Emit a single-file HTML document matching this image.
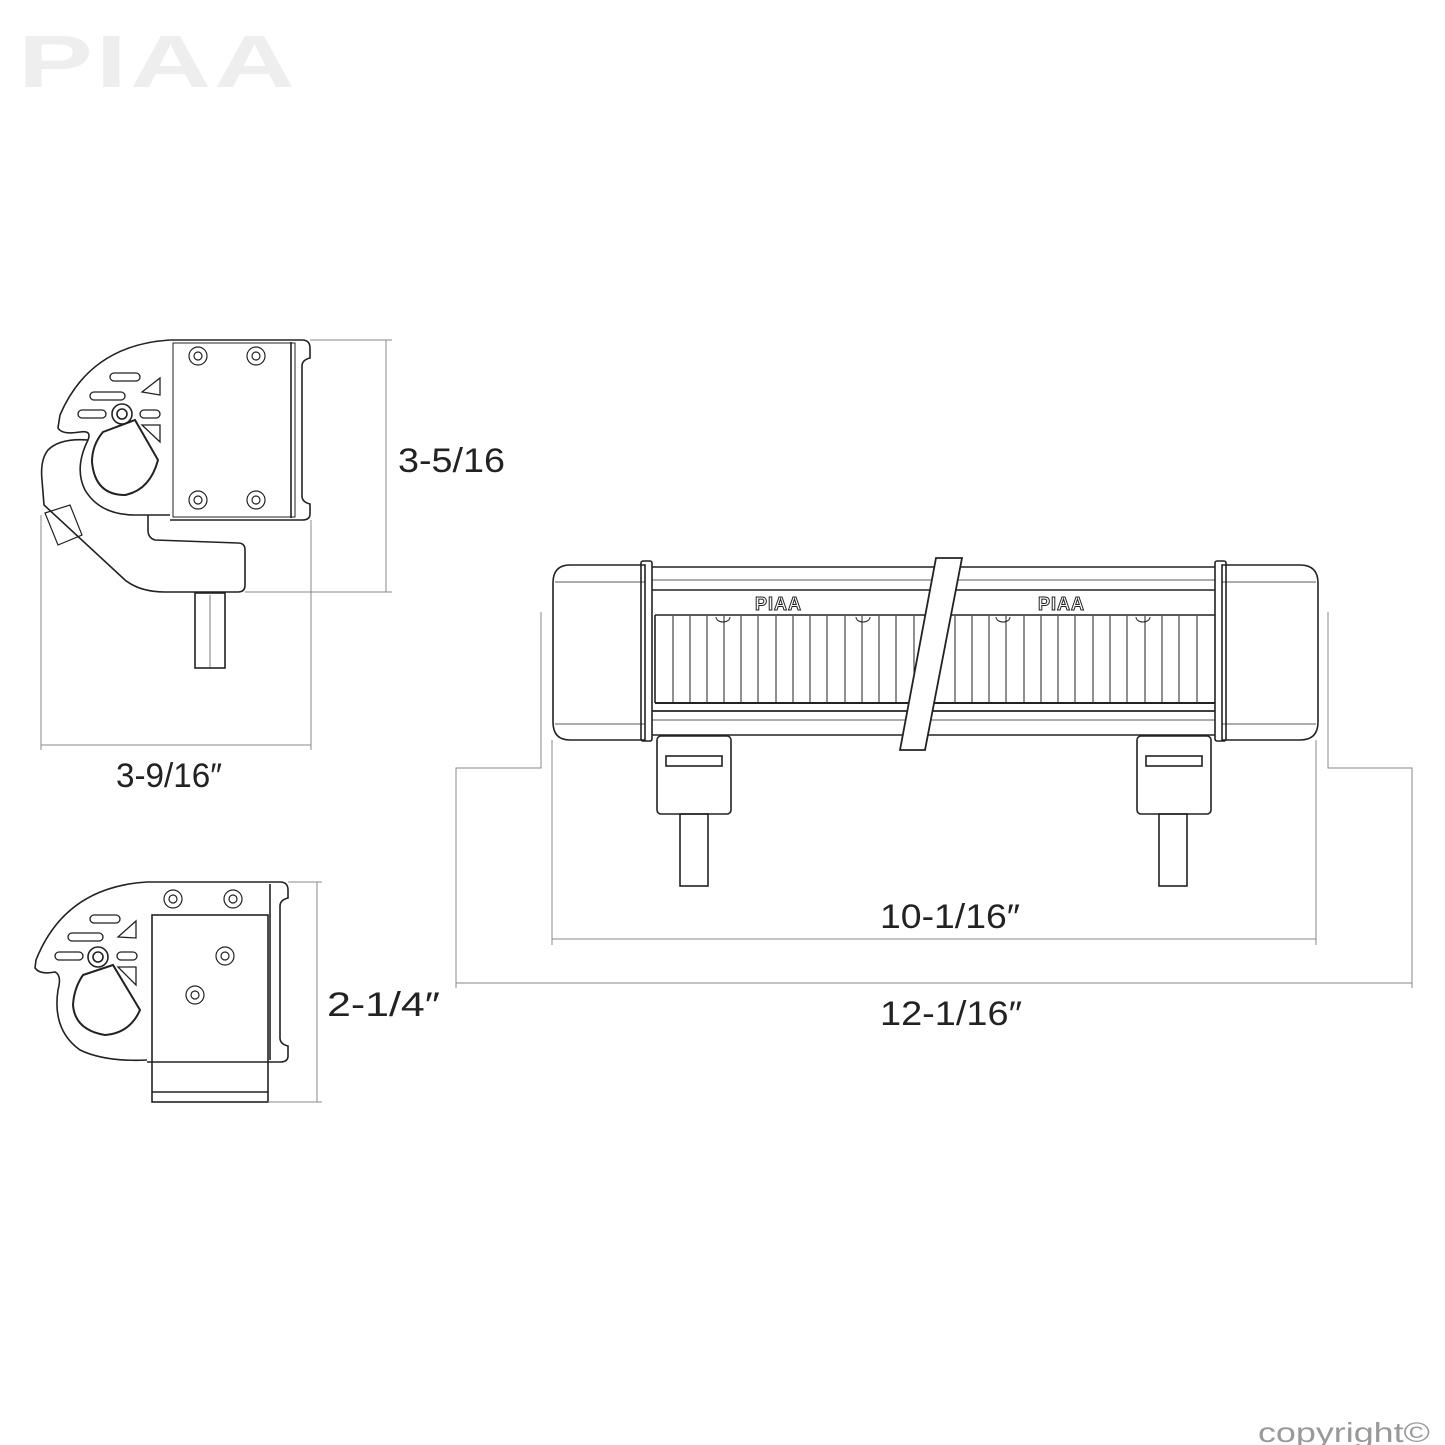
<!DOCTYPE html>
<html><head><meta charset="utf-8"><style>
html,body{margin:0;padding:0;background:#fff}
svg{display:block}
text{font-family:"Liberation Sans",sans-serif}
</style></head><body>
<svg width="1445" height="1445" viewBox="0 0 1445 1445" xmlns="http://www.w3.org/2000/svg">
<text x="18" y="87" font-size="74" font-weight="bold" fill="#eeeeee" letter-spacing="2" textLength="280" lengthAdjust="spacingAndGlyphs">PIAA</text>

<g fill="none" stroke="#222" stroke-width="1.6">
<path d="M170,340 L302,340 Q310,340 310,348 L310,358 Q302,360 302,366 L302,496 Q302,502 310,504 L310,514 Q310,520 302,520 L170,520"/>
<path d="M170,340 Q90,345 60,415 L58,428 Q62,435 80,432 Q92,430 88,440 Q74,468 85,490 Q100,515 135,515 L170,515"/>
<rect x="173" y="343" width="122" height="174" stroke-width="1"/>
<line x1="291" y1="342" x2="291" y2="518"/>
<path d="M88,440 Q60,438 48,450 Q40,460 42,480 L44,505 L125,580 Q140,592 165,592 L238,592 Q245,592 245,585 L245,550 Q245,543 238,543 L155,540 Q148,538 148,530 L148,515"/>
<path d="M45,513 L70,505 L82,535 L58,545 Z" stroke-width="1.2"/>
<rect x="195" y="593" width="30" height="75"/>
<line x1="210" y1="595" x2="210" y2="667" stroke-width=".6"/>
<path d="M103,432 L135,420 L158,460 Q150,490 125,495 Q95,495 92,462 Q92,445 103,432Z" stroke-width="2"/>
<circle cx="122" cy="414" r="10"/><circle cx="122" cy="414" r="5"/>
<g stroke-width="1.3">
<rect x="110" y="373" width="30" height="8" rx="4"/>
<rect x="90" y="392" width="35" height="8" rx="4"/>
<rect x="78" y="410" width="28" height="8" rx="4"/>
<rect x="140" y="410" width="20" height="8" rx="4"/>
<path d="M142,392 L160,378 L160,395 Z"/>
<path d="M142,425 L160,425 L160,442 Z"/>
</g>
<g stroke-width="1.2">
<circle cx="198" cy="356" r="9"/><circle cx="198" cy="356" r="4"/>
<circle cx="256" cy="356" r="9"/><circle cx="256" cy="356" r="4"/>
<circle cx="198" cy="500" r="9"/><circle cx="198" cy="500" r="4"/>
<circle cx="256" cy="500" r="9"/><circle cx="256" cy="500" r="4"/>
</g>

<path d="M147,882 L280,882 Q288,882 288,890 L288,898 Q280,900 280,906 L280,1038 Q280,1044 288,1046 L288,1056 Q288,1062 280,1062 L147,1062"/>
<path d="M147,882 Q65,887 36,960 L35,968 Q40,975 55,972 Q62,975 58,990 Q52,1030 80,1050 Q105,1062 147,1060"/>
<rect x="152" y="915" width="116" height="187"/>
<line x1="152" y1="1092" x2="268" y2="1092"/>
<line x1="270" y1="884" x2="270" y2="1060"/>
<path d="M83,975 L113,965 L140,1010 Q130,1033 105,1035 Q75,1030 73,1005 Q74,988 83,975Z" stroke-width="2"/>
<circle cx="98" cy="957" r="10"/><circle cx="98" cy="957" r="5"/>
<g stroke-width="1.3">
<rect x="90" y="915" width="30" height="8" rx="4"/>
<rect x="68" y="933" width="35" height="8" rx="4"/>
<rect x="55" y="952" width="28" height="8" rx="4"/>
<rect x="117" y="952" width="20" height="8" rx="4"/>
<path d="M118,937 L136,921 L136,938 Z"/>
<path d="M118,967 L136,967 L136,985 Z"/>
</g>
<g stroke-width="1.2">
<circle cx="173" cy="899" r="9"/><circle cx="173" cy="899" r="4"/>
<circle cx="233" cy="899" r="9"/><circle cx="233" cy="899" r="4"/>
<circle cx="225" cy="956" r="9"/><circle cx="225" cy="956" r="4"/>
<circle cx="195" cy="995" r="9"/><circle cx="195" cy="995" r="4"/>
</g>

<path d="M570,565 L645,565 L645,740 L570,740 Q553,740 553,722 L553,583 Q553,565 570,565Z"/>
<path d="M1222,565 L1300,565 Q1318,565 1318,583 L1318,722 Q1318,740 1300,740 L1222,740Z"/>
<line x1="555" y1="582" x2="645" y2="582" stroke-width=".8"/>
<line x1="555" y1="724" x2="645" y2="724" stroke-width=".8"/>
<line x1="1222" y1="582" x2="1316" y2="582" stroke-width=".8"/>
<line x1="1222" y1="724" x2="1316" y2="724" stroke-width=".8"/>
<rect x="641" y="561" width="11" height="180" rx="2"/>
<rect x="1215" y="561" width="11" height="180" rx="2"/>
<line x1="652" y1="567" x2="1215" y2="567"/>
<line x1="652" y1="580" x2="1215" y2="580" stroke-width=".8"/>
<line x1="652" y1="590" x2="1215" y2="590" stroke-width="1.6"/>
<line x1="655" y1="615" x2="1215" y2="615"/>
<line x1="655" y1="703" x2="1215" y2="703" stroke-width="2"/>
<line x1="652" y1="711" x2="1215" y2="711" stroke-width="1.8"/>
<line x1="652" y1="720" x2="1215" y2="720" stroke-width=".8"/>
<line x1="652" y1="735" x2="1215" y2="735"/>
<line x1="655" y1="615" x2="655" y2="703"/>
<g stroke-width="1">
<line x1="673" y1="616" x2="673" y2="703"/><line x1="690" y1="616" x2="690" y2="703"/>
<line x1="707" y1="616" x2="707" y2="703"/><line x1="724" y1="616" x2="724" y2="703"/>
<line x1="741" y1="616" x2="741" y2="703"/><line x1="758" y1="616" x2="758" y2="703"/>
<line x1="776" y1="616" x2="776" y2="703"/><line x1="793" y1="616" x2="793" y2="703"/>
<line x1="810" y1="616" x2="810" y2="703"/><line x1="827" y1="616" x2="827" y2="703"/>
<line x1="845" y1="616" x2="845" y2="703"/><line x1="862" y1="616" x2="862" y2="703"/>
<line x1="879" y1="616" x2="879" y2="703"/><line x1="896" y1="616" x2="896" y2="703"/>
<line x1="914" y1="616" x2="914" y2="703"/>
<line x1="955" y1="616" x2="955" y2="703"/><line x1="972" y1="616" x2="972" y2="703"/>
<line x1="989" y1="616" x2="989" y2="703"/><line x1="1006" y1="616" x2="1006" y2="703"/>
<line x1="1024" y1="616" x2="1024" y2="703"/><line x1="1041" y1="616" x2="1041" y2="703"/>
<line x1="1058" y1="616" x2="1058" y2="703"/><line x1="1075" y1="616" x2="1075" y2="703"/>
<line x1="1093" y1="616" x2="1093" y2="703"/><line x1="1110" y1="616" x2="1110" y2="703"/>
<line x1="1127" y1="616" x2="1127" y2="703"/><line x1="1145" y1="616" x2="1145" y2="703"/>
<line x1="1162" y1="616" x2="1162" y2="703"/><line x1="1179" y1="616" x2="1179" y2="703"/>
<line x1="1197" y1="616" x2="1197" y2="703"/>
<path d="M716,617 a7,5 0 0 0 14,0"/><path d="M856,617 a7,5 0 0 0 14,0"/>
<path d="M996,617 a7,5 0 0 0 14,0"/><path d="M1136,617 a7,5 0 0 0 14,0"/>
</g>
<polygon points="936,558 962,558 925,750 900,750" fill="#fff" stroke-width="1.8"/>
<rect x="657" y="736" width="74" height="78" rx="4"/>
<rect x="666" y="756" width="56" height="10"/>
<rect x="680" y="814" width="28" height="72"/>
<rect x="1137" y="736" width="74" height="78" rx="4"/>
<rect x="1146" y="756" width="56" height="10"/>
<rect x="1159" y="814" width="28" height="72"/>
</g>
<g font-size="18" font-weight="bold" fill="#fff" stroke="#222" stroke-width="1" letter-spacing="1">
<text x="755" y="610">PIAA</text><text x="1038" y="610">PIAA</text>
</g>

<g fill="none" stroke="#888" stroke-width="1">
<line x1="310" y1="340" x2="392" y2="340"/><line x1="245" y1="592" x2="392" y2="592"/>
<line x1="386" y1="340" x2="386" y2="592"/>
<line x1="41" y1="515" x2="41" y2="750"/><line x1="311" y1="520" x2="311" y2="750"/>
<line x1="41" y1="745" x2="311" y2="745"/>
<line x1="288" y1="882" x2="322" y2="882"/><line x1="268" y1="1102" x2="322" y2="1102"/>
<line x1="317" y1="882" x2="317" y2="1102"/>
<polyline points="541,612 541,768 456,768 456,988"/>
<polyline points="1328,612 1328,768 1412,768 1412,988"/>
<line x1="552" y1="740" x2="552" y2="945"/><line x1="1316" y1="740" x2="1316" y2="945"/>
<line x1="552" y1="939" x2="1316" y2="939"/>
<line x1="456" y1="983" x2="1412" y2="983"/>
</g>
<g font-size="34" fill="#222">
<text x="398" y="472" textLength="107" lengthAdjust="spacingAndGlyphs">3-5/16</text>
<text x="116" y="787" textLength="106" lengthAdjust="spacingAndGlyphs">3-9/16″</text>
<text x="327" y="1016" textLength="113" lengthAdjust="spacingAndGlyphs">2-1/4″</text>
<text x="880" y="928" textLength="140" lengthAdjust="spacingAndGlyphs">10-1/16″</text>
<text x="880" y="1025" textLength="142" lengthAdjust="spacingAndGlyphs">12-1/16″</text>
</g>
<text x="1258" y="1442" font-size="28" fill="#999" textLength="172" lengthAdjust="spacingAndGlyphs">copyright©</text>
</svg>
</body></html>
